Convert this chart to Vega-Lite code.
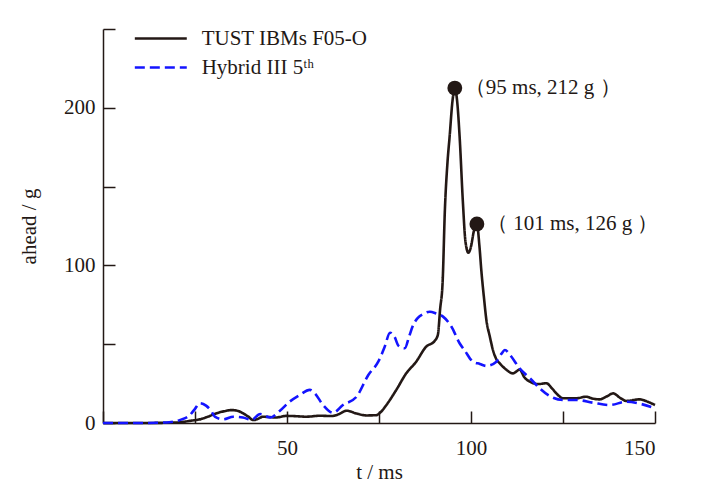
{
  "$schema": "https://vega.github.io/schema/vega-lite/v6.json",
  "description": "Head acceleration of TUST IBMs F05-O vs Hybrid III 5th",
  "width": 552,
  "height": 394,
  "autosize": "none",
  "padding": {"left": 103, "top": 29, "right": 52, "bottom": 66},
  "datasets": {
    "curves": [
      {"t": 0, "g": 0, "s": "TUST IBMs F05-O"},
      {"t": 10, "g": 0, "s": "TUST IBMs F05-O"},
      {"t": 20, "g": 0.3, "s": "TUST IBMs F05-O"},
      {"t": 22, "g": 0.8, "s": "TUST IBMs F05-O"},
      {"t": 24, "g": 1.5, "s": "TUST IBMs F05-O"},
      {"t": 26.3, "g": 2.3, "s": "TUST IBMs F05-O"},
      {"t": 28.5, "g": 4, "s": "TUST IBMs F05-O"},
      {"t": 30.9, "g": 6.2, "s": "TUST IBMs F05-O"},
      {"t": 33, "g": 7.5, "s": "TUST IBMs F05-O"},
      {"t": 34.9, "g": 8.2, "s": "TUST IBMs F05-O"},
      {"t": 36.5, "g": 7.8, "s": "TUST IBMs F05-O"},
      {"t": 38, "g": 6.2, "s": "TUST IBMs F05-O"},
      {"t": 39.5, "g": 4, "s": "TUST IBMs F05-O"},
      {"t": 40.8, "g": 1.9, "s": "TUST IBMs F05-O"},
      {"t": 42, "g": 2.5, "s": "TUST IBMs F05-O"},
      {"t": 43.5, "g": 4, "s": "TUST IBMs F05-O"},
      {"t": 45, "g": 3.8, "s": "TUST IBMs F05-O"},
      {"t": 47, "g": 3.5, "s": "TUST IBMs F05-O"},
      {"t": 49.8, "g": 4.5, "s": "TUST IBMs F05-O"},
      {"t": 51.7, "g": 4.4, "s": "TUST IBMs F05-O"},
      {"t": 55.3, "g": 4, "s": "TUST IBMs F05-O"},
      {"t": 58.9, "g": 4.6, "s": "TUST IBMs F05-O"},
      {"t": 62.1, "g": 4.4, "s": "TUST IBMs F05-O"},
      {"t": 64, "g": 5.5, "s": "TUST IBMs F05-O"},
      {"t": 66.2, "g": 7.8, "s": "TUST IBMs F05-O"},
      {"t": 68.9, "g": 6, "s": "TUST IBMs F05-O"},
      {"t": 71.6, "g": 4.8, "s": "TUST IBMs F05-O"},
      {"t": 74.3, "g": 5, "s": "TUST IBMs F05-O"},
      {"t": 75.5, "g": 7, "s": "TUST IBMs F05-O"},
      {"t": 77, "g": 11.4, "s": "TUST IBMs F05-O"},
      {"t": 79.7, "g": 21, "s": "TUST IBMs F05-O"},
      {"t": 82.4, "g": 31.5, "s": "TUST IBMs F05-O"},
      {"t": 85.1, "g": 38.9, "s": "TUST IBMs F05-O"},
      {"t": 87.8, "g": 48.4, "s": "TUST IBMs F05-O"},
      {"t": 90.1, "g": 52, "s": "TUST IBMs F05-O"},
      {"t": 91, "g": 56, "s": "TUST IBMs F05-O"},
      {"t": 91.6, "g": 72, "s": "TUST IBMs F05-O"},
      {"t": 92.3, "g": 90, "s": "TUST IBMs F05-O"},
      {"t": 92.9, "g": 135, "s": "TUST IBMs F05-O"},
      {"t": 93.6, "g": 165, "s": "TUST IBMs F05-O"},
      {"t": 94.2, "g": 182, "s": "TUST IBMs F05-O"},
      {"t": 95, "g": 205, "s": "TUST IBMs F05-O"},
      {"t": 95.6, "g": 212.5, "s": "TUST IBMs F05-O"},
      {"t": 96.2, "g": 205, "s": "TUST IBMs F05-O"},
      {"t": 96.9, "g": 182, "s": "TUST IBMs F05-O"},
      {"t": 97.8, "g": 140, "s": "TUST IBMs F05-O"},
      {"t": 98.5, "g": 115, "s": "TUST IBMs F05-O"},
      {"t": 99.3, "g": 108, "s": "TUST IBMs F05-O"},
      {"t": 100, "g": 112, "s": "TUST IBMs F05-O"},
      {"t": 100.8, "g": 122, "s": "TUST IBMs F05-O"},
      {"t": 101.6, "g": 126.3, "s": "TUST IBMs F05-O"},
      {"t": 102.3, "g": 112, "s": "TUST IBMs F05-O"},
      {"t": 102.8, "g": 97, "s": "TUST IBMs F05-O"},
      {"t": 103.5, "g": 80, "s": "TUST IBMs F05-O"},
      {"t": 104.2, "g": 65, "s": "TUST IBMs F05-O"},
      {"t": 105.1, "g": 55, "s": "TUST IBMs F05-O"},
      {"t": 106, "g": 46, "s": "TUST IBMs F05-O"},
      {"t": 107, "g": 40, "s": "TUST IBMs F05-O"},
      {"t": 107.8, "g": 37.9, "s": "TUST IBMs F05-O"},
      {"t": 109.5, "g": 34, "s": "TUST IBMs F05-O"},
      {"t": 111.4, "g": 31.5, "s": "TUST IBMs F05-O"},
      {"t": 112.5, "g": 33, "s": "TUST IBMs F05-O"},
      {"t": 113.2, "g": 34, "s": "TUST IBMs F05-O"},
      {"t": 114.5, "g": 29, "s": "TUST IBMs F05-O"},
      {"t": 116, "g": 26.2, "s": "TUST IBMs F05-O"},
      {"t": 118.2, "g": 24.7, "s": "TUST IBMs F05-O"},
      {"t": 120.5, "g": 25.2, "s": "TUST IBMs F05-O"},
      {"t": 122, "g": 22, "s": "TUST IBMs F05-O"},
      {"t": 123.2, "g": 18.8, "s": "TUST IBMs F05-O"},
      {"t": 125, "g": 15.7, "s": "TUST IBMs F05-O"},
      {"t": 128.6, "g": 15.7, "s": "TUST IBMs F05-O"},
      {"t": 131.3, "g": 16.7, "s": "TUST IBMs F05-O"},
      {"t": 133, "g": 15.5, "s": "TUST IBMs F05-O"},
      {"t": 134.9, "g": 15, "s": "TUST IBMs F05-O"},
      {"t": 137, "g": 17, "s": "TUST IBMs F05-O"},
      {"t": 138.6, "g": 18.8, "s": "TUST IBMs F05-O"},
      {"t": 140.5, "g": 16, "s": "TUST IBMs F05-O"},
      {"t": 142.2, "g": 14, "s": "TUST IBMs F05-O"},
      {"t": 145.8, "g": 15, "s": "TUST IBMs F05-O"},
      {"t": 148, "g": 13.5, "s": "TUST IBMs F05-O"},
      {"t": 150, "g": 11.4, "s": "TUST IBMs F05-O"},
      {"t": 0, "g": 0, "s": "Hybrid III 5ᵗʰ"},
      {"t": 10, "g": 0, "s": "Hybrid III 5ᵗʰ"},
      {"t": 15, "g": 0.2, "s": "Hybrid III 5ᵗʰ"},
      {"t": 18, "g": 0.5, "s": "Hybrid III 5ᵗʰ"},
      {"t": 21, "g": 2, "s": "Hybrid III 5ᵗʰ"},
      {"t": 23.6, "g": 5, "s": "Hybrid III 5ᵗʰ"},
      {"t": 25, "g": 9, "s": "Hybrid III 5ᵗʰ"},
      {"t": 26.3, "g": 12.6, "s": "Hybrid III 5ᵗʰ"},
      {"t": 28, "g": 11, "s": "Hybrid III 5ᵗʰ"},
      {"t": 29.3, "g": 8, "s": "Hybrid III 5ᵗʰ"},
      {"t": 30.4, "g": 4, "s": "Hybrid III 5ᵗʰ"},
      {"t": 32.7, "g": 2.3, "s": "Hybrid III 5ᵗʰ"},
      {"t": 35.4, "g": 4, "s": "Hybrid III 5ᵗʰ"},
      {"t": 38, "g": 3.5, "s": "Hybrid III 5ᵗʰ"},
      {"t": 40.4, "g": 2, "s": "Hybrid III 5ᵗʰ"},
      {"t": 42.7, "g": 5.7, "s": "Hybrid III 5ᵗʰ"},
      {"t": 45.4, "g": 3.5, "s": "Hybrid III 5ᵗʰ"},
      {"t": 48, "g": 7.6, "s": "Hybrid III 5ᵗʰ"},
      {"t": 50.7, "g": 13.5, "s": "Hybrid III 5ᵗʰ"},
      {"t": 53.4, "g": 17.7, "s": "Hybrid III 5ᵗʰ"},
      {"t": 56.2, "g": 21, "s": "Hybrid III 5ᵗʰ"},
      {"t": 57.5, "g": 19, "s": "Hybrid III 5ᵗʰ"},
      {"t": 59.8, "g": 11.4, "s": "Hybrid III 5ᵗʰ"},
      {"t": 62.5, "g": 6.5, "s": "Hybrid III 5ᵗʰ"},
      {"t": 65.2, "g": 11.4, "s": "Hybrid III 5ᵗʰ"},
      {"t": 68.9, "g": 16.7, "s": "Hybrid III 5ᵗʰ"},
      {"t": 72.1, "g": 30.5, "s": "Hybrid III 5ᵗʰ"},
      {"t": 74.8, "g": 38.9, "s": "Hybrid III 5ᵗʰ"},
      {"t": 76.5, "g": 48, "s": "Hybrid III 5ᵗʰ"},
      {"t": 78, "g": 57.3, "s": "Hybrid III 5ᵗʰ"},
      {"t": 79.2, "g": 54.8, "s": "Hybrid III 5ᵗʰ"},
      {"t": 80.3, "g": 49, "s": "Hybrid III 5ᵗʰ"},
      {"t": 82, "g": 47.4, "s": "Hybrid III 5ᵗʰ"},
      {"t": 83.2, "g": 55, "s": "Hybrid III 5ᵗʰ"},
      {"t": 84.3, "g": 62.2, "s": "Hybrid III 5ᵗʰ"},
      {"t": 85.5, "g": 66.5, "s": "Hybrid III 5ᵗʰ"},
      {"t": 87, "g": 69.2, "s": "Hybrid III 5ᵗʰ"},
      {"t": 88.8, "g": 70.6, "s": "Hybrid III 5ᵗʰ"},
      {"t": 90.5, "g": 69.5, "s": "Hybrid III 5ᵗʰ"},
      {"t": 92.4, "g": 67.5, "s": "Hybrid III 5ᵗʰ"},
      {"t": 94.7, "g": 61.1, "s": "Hybrid III 5ᵗʰ"},
      {"t": 96.9, "g": 50.6, "s": "Hybrid III 5ᵗʰ"},
      {"t": 98.3, "g": 46, "s": "Hybrid III 5ᵗʰ"},
      {"t": 100.5, "g": 39, "s": "Hybrid III 5ᵗʰ"},
      {"t": 102.4, "g": 37.5, "s": "Hybrid III 5ᵗʰ"},
      {"t": 104.2, "g": 36.2, "s": "Hybrid III 5ᵗʰ"},
      {"t": 106.9, "g": 38.9, "s": "Hybrid III 5ᵗʰ"},
      {"t": 108.3, "g": 44, "s": "Hybrid III 5ᵗʰ"},
      {"t": 109.2, "g": 46.3, "s": "Hybrid III 5ᵗʰ"},
      {"t": 110.6, "g": 43.2, "s": "Hybrid III 5ᵗʰ"},
      {"t": 113.2, "g": 34.7, "s": "Hybrid III 5ᵗʰ"},
      {"t": 116, "g": 28.4, "s": "Hybrid III 5ᵗʰ"},
      {"t": 118.7, "g": 22, "s": "Hybrid III 5ᵗʰ"},
      {"t": 121.4, "g": 17.1, "s": "Hybrid III 5ᵗʰ"},
      {"t": 125, "g": 14.6, "s": "Hybrid III 5ᵗʰ"},
      {"t": 128.6, "g": 14.6, "s": "Hybrid III 5ᵗʰ"},
      {"t": 133.1, "g": 12.9, "s": "Hybrid III 5ᵗʰ"},
      {"t": 137.7, "g": 11.4, "s": "Hybrid III 5ᵗʰ"},
      {"t": 142.2, "g": 13.5, "s": "Hybrid III 5ᵗʰ"},
      {"t": 145.8, "g": 12.3, "s": "Hybrid III 5ᵗʰ"},
      {"t": 150, "g": 9.3, "s": "Hybrid III 5ᵗʰ"}
    ],
    "peaks": [
      {"t": 95.6, "g": 212.5, "label": "（95 ms, 212 g ）"},
      {"t": 101.6, "g": 126.3, "label": "（ 101 ms, 126 g ）"}
    ]
  },
  "layer": [
    {
      "data": {"name": "curves"},
      "mark": {"type": "line", "interpolate": "monotone", "strokeWidth": 2.6},
      "encoding": {
        "x": {
          "field": "t",
          "type": "quantitative",
          "scale": {"domain": [0, 150], "nice": false},
          "axis": {
            "title": "t / ms",
            "values": [0, 25, 50, 75, 100, 125, 150],
            "labelExpr": "datum.value % 50 == 0 && datum.value > 0 ? datum.label : ''",
            "tickSize": -12,
            "labelPadding": 26,
            "titlePadding": 3
          }
        },
        "y": {
          "field": "g",
          "type": "quantitative",
          "scale": {"domain": [0, 250], "nice": false},
          "axis": {
            "title": "ahead / g",
            "values": [0, 50, 100, 150, 200, 250],
            "labelExpr": "datum.value % 100 == 0 ? datum.label : ''",
            "tickSize": -12,
            "labelPadding": 20,
            "titlePadding": 24
          }
        },
        "color": {
          "field": "s",
          "type": "nominal",
          "scale": {
            "domain": ["TUST IBMs F05-O", "Hybrid III 5ᵗʰ"],
            "range": ["#231815", "#1414ff"]
          },
          "legend": {
            "title": null,
            "orient": "none",
            "legendX": 47.3,
            "legendY": -1,
            "padding": 0,
            "symbolType": "M-3,0H3",
            "symbolSize": 300,
            "symbolStrokeWidth": 2.6,
            "labelFontSize": 21,
            "labelLimit": 400,
            "labelOffset": 30.4,
            "rowPadding": 7,
            "labelColor": "#231815"
          }
        },
        "strokeDash": {
          "field": "s",
          "type": "nominal",
          "scale": {
            "domain": ["TUST IBMs F05-O", "Hybrid III 5ᵗʰ"],
            "range": [[1, 0], [10, 5]]
          },
          "legend": null
        }
      }
    },
    {
      "data": {"name": "peaks"},
      "mark": {"type": "circle", "size": 220, "color": "#231815", "opacity": 1},
      "encoding": {
        "x": {"field": "t", "type": "quantitative"},
        "y": {"field": "g", "type": "quantitative"}
      }
    },
    {
      "data": {"name": "peaks"},
      "mark": {"type": "text", "align": "left", "baseline": "middle", "dx": 10, "fontSize": 21, "color": "#231815"},
      "encoding": {
        "x": {"field": "t", "type": "quantitative"},
        "y": {"field": "g", "type": "quantitative"},
        "text": {"field": "label"}
      }
    }
  ],
  "config": {
    "font": "Liberation Serif",
    "view": {"stroke": null},
    "axis": {
      "grid": false,
      "domainColor": "#231815",
      "domainWidth": 1.5,
      "tickColor": "#231815",
      "tickWidth": 1.5,
      "labelColor": "#231815",
      "labelFontSize": 21,
      "titleColor": "#231815",
      "titleFontSize": 21,
      "titleFontWeight": "normal"
    }
  }
}
